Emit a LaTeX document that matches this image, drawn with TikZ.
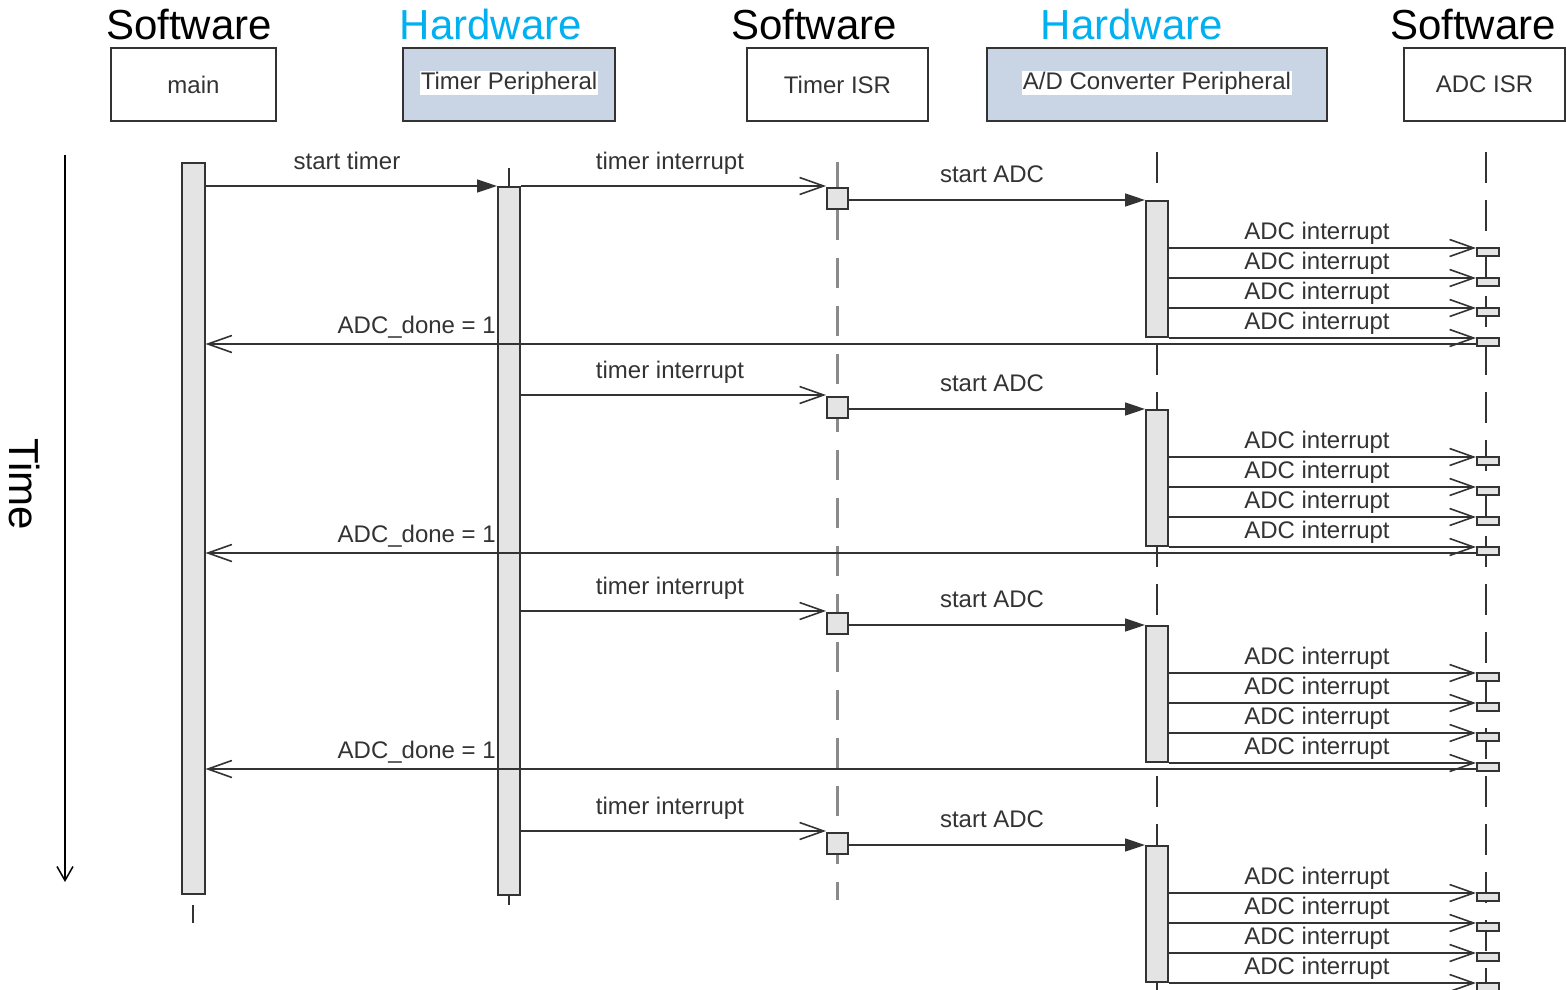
\documentclass[tikz,border=0pt]{standalone}
\usepackage{fontspec}
\setmainfont{Liberation Sans}
\usetikzlibrary{arrows.meta}
\definecolor{hwblue}{HTML}{C9D5E4}
\definecolor{hwtext}{HTML}{00B0F0}
\definecolor{barfill}{HTML}{E4E4E4}
\definecolor{ink}{HTML}{333333}
\definecolor{isrline}{HTML}{8A8A8A}

\begin{document}
\begin{tikzpicture}[x=1pt,y=-1pt,
  head/.style={font=\fontsize{42}{48}\selectfont, anchor=base, inner sep=0pt},
  objbox/.style={draw=ink, line width=2pt, minimum width=#1, minimum height=73pt,
    inner sep=0pt, font=\fontsize{24}{28}\selectfont, text=ink},
  hwbox/.style={objbox=#1, fill=hwblue},
  hwlabel/.style={fill=white, inner sep=1pt, font=\fontsize{24}{28}\selectfont, text=ink},
  actbar/.style={draw=ink, line width=2pt, fill=barfill, minimum width=22pt, inner sep=0pt},
  isrsq/.style={draw=ink, line width=2pt, fill=barfill, minimum width=21pt, minimum height=21pt, inner sep=0pt},
  isrtick/.style={draw=ink, line width=1.6pt, fill=barfill, minimum width=22pt, minimum height=8pt, inner sep=0pt},
  lbl/.style={anchor=base, inner sep=0pt, font=\fontsize{24}{28}\selectfont, text=ink},
  syncmsg/.style={draw=ink, line width=1.6pt, -{Triangle[length=20pt,width=13pt]}},
  asyncmsg/.style={draw=ink, line width=1.6pt, -{Straight Barb[length=24pt,width=17pt]}},
  tisrline/.style={draw=isrline, line width=3pt, dash pattern=on 30pt off 18pt},
  adcline/.style={draw=ink, line width=2pt, dash pattern=on 31pt off 17pt},
  tick/.style={draw=ink, line width=2pt}
]
\useasboundingbox (0,0) rectangle (1566,990);

% group captions
\node[head] (capmain) at (189,40) {Software};
\node[head, text=hwtext] (captp) at (491,40) {Hardware};
\node[head] (captisr) at (814,40) {Software};
\node[head, text=hwtext] (capadc) at (1132,40) {Hardware};
\node[head] (capaisr) at (1473,40) {Software};

% object boxes
\node[objbox=165pt] (main) at (193.5,84.5) {main};
\node[hwbox=212pt] (tp) at (509,84.5) {};
\node[hwlabel] (tplabel) at (509,83) {Timer Peripheral};
\node[objbox=181pt] (tisr) at (837.5,84.5) {Timer ISR};
\node[hwbox=340pt] (adc) at (1157,84.5) {};
\node[hwlabel] (adclabel) at (1157,83) {A/D Converter Peripheral};
\node[objbox=161pt] (aisr) at (1484.5,84.5) {ADC ISR};

% time axis
\coordinate (ttop) at (65,155);
\coordinate (tbot) at (65,882);
\draw[line width=1.5pt, -{Straight Barb[length=14pt,width=16pt]}] (ttop) -- (tbot);
\node[rotate=-90, font=\fontsize{42}{48}\selectfont, inner sep=0pt] (timelbl) at (25,484) {Time};

% lifelines
\coordinate (tisrtop) at (837,162);
\coordinate (tisrbot) at (837,900);
\draw[tisrline] (tisrtop) -- (tisrbot);
\coordinate (adctop) at (1157,152);
\coordinate (adcbot) at (1157,992);
\draw[adcline] (adctop) -- (adcbot);
\coordinate (aisrtop) at (1486,152);
\coordinate (aisrbot) at (1486,992);
\draw[adcline] (aisrtop) -- (aisrbot);

% activation bars of main and timer peripheral
\node[actbar, minimum width=23pt, minimum height=731pt, anchor=north] (mainbar) at (193,162) {};
\coordinate (mainend) at (193,905);
\coordinate (mainendb) at (193,923);
\draw[tick] (mainend) -- (mainendb);
\node[actbar, minimum height=708pt, anchor=north] (tpbar) at (509,186) {};
\coordinate (tptop) at (509,168);
\draw[tick] (tptop) -- (tpbar.north);
\coordinate (tpend) at (509,905);
\draw[tick] (tpbar.south) -- (tpend);

% start timer
\coordinate (st) at (0,186);
\draw[syncmsg] (mainbar.east |- st) -- (tpbar.west |- st);
\node[lbl] (stlbl) at (347,169) {start timer};

% four conversion cycles
\foreach \i/\t in {1/186,2/395,3/611,4/831}{
  \pgfmathsetmacro{\sa}{\t+14}
  \pgfmathsetmacro{\dn}{\t+158}
  \node[isrsq, anchor=north] (tisr\i) at (837.5,\t+1) {};
  \node[actbar, minimum height=136pt, anchor=north] (adc\i) at (1157,\sa) {};
  \coordinate (ti\i) at (0,\t);
  \coordinate (sa\i) at (0,\sa);
  \draw[asyncmsg] (tpbar.east |- ti\i) -- (tisr\i.west |- ti\i);
  \node[lbl] (tilbl\i) at (670,\t-17) {timer interrupt};
  \draw[syncmsg] (tisr\i.east |- sa\i) -- (adc\i.west |- sa\i);
  \node[lbl] (salbl\i) at (992,\sa-18) {start ADC};
  \foreach \k in {1,...,4}{
    \pgfmathsetmacro{\iy}{\t+32+30*\k}
    \node[isrtick, anchor=north west] (isr\i\k) at (1476,\iy-1) {};
    \coordinate (ai\i\k) at (0,\iy);
    \draw[asyncmsg] (adc\i.east |- ai\i\k) -- (isr\i\k.west |- ai\i\k);
    \node[lbl] (ailbl\i\k) at (1317,\iy-9) {ADC interrupt};
  }
  \ifnum\i<4
    \coordinate (dn\i) at (0,\dn);
    \draw[asyncmsg] (isr\i4.south west |- dn\i) -- (mainbar.east |- dn\i);
    \node[lbl, anchor=base east, fill=white, inner sep=1pt] (dnlbl\i) at (497,\dn-11) {ADC\_done = 1};
  \fi
}
\end{tikzpicture}
\end{document}
